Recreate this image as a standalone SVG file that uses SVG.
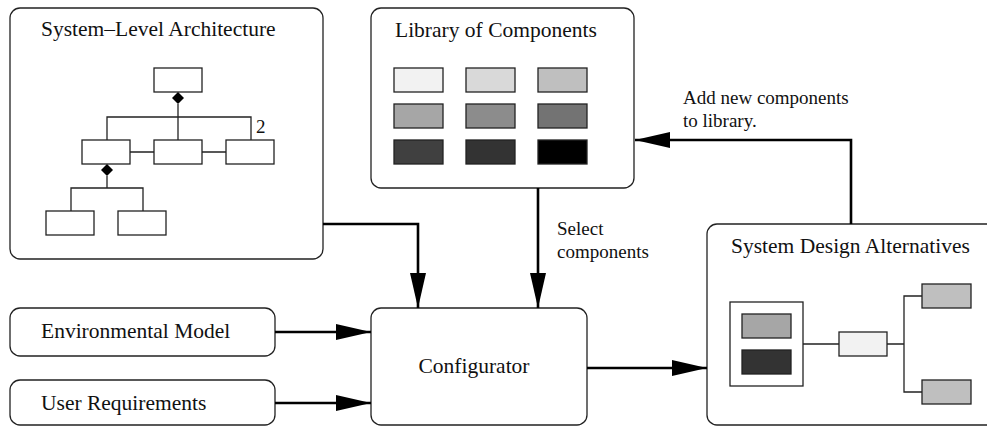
<svg xmlns="http://www.w3.org/2000/svg" width="987" height="427" viewBox="0 0 987 427">
<style>
.box{fill:#fff;stroke:#222;stroke-width:1.3}
.t{font-family:"Liberation Serif","Times New Roman",serif;font-size:21.5px;fill:#111}
.s{font-family:"Liberation Serif","Times New Roman",serif;font-size:19px;fill:#111}
.r{stroke:#222;stroke-width:1.3}
.w{fill:#fff}
.ln{fill:none;stroke:#222;stroke-width:1.3}
.c{fill:none;stroke:#000;stroke-width:2.6}
</style>
<defs>
<marker id="ah" viewBox="0 0 35 16" markerWidth="35" markerHeight="16" markerUnits="userSpaceOnUse" refX="35" refY="8" orient="auto">
<path d="M0,0 L35,8 L0,16 z" fill="#000"/>
</marker>
</defs>
<rect width="987" height="427" fill="#fff"/>

<g id="sla">
<rect class="box" x="10" y="8" width="313" height="251" rx="10"/>
<text class="t" x="41" y="36">System–Level Architecture</text>
<rect class="r w" x="154" y="68" width="48" height="24"/>
<polygon points="178,92 184,98 178,104 172,98" fill="#000"/>
<path class="ln" d="M178,104 V140 M107,140 V117 H251 V140 M130,152 H154 M202,152 H226"/>
<text class="s" x="256" y="133">2</text>
<rect class="r w" x="82" y="140" width="48" height="24"/>
<rect class="r w" x="154" y="140" width="48" height="24"/>
<rect class="r w" x="226" y="140" width="48" height="24"/>
<polygon points="107,164 113,170 107,176 101,170" fill="#000"/>
<path class="ln" d="M107,176 V188 M71,211 V188 H143 V211"/>
<rect class="r w" x="46" y="211" width="48" height="24"/>
<rect class="r w" x="118" y="211" width="48" height="24"/>
</g>

<g id="library">
<rect class="box" x="371" y="8" width="263" height="180" rx="10"/>
<text class="t" x="395" y="37">Library of Components</text>
<rect class="r" x="394" y="68" width="49" height="24" fill="#f2f2f2"/>
<rect class="r" x="466" y="68" width="49" height="24" fill="#d9d9d9"/>
<rect class="r" x="538" y="68" width="49" height="24" fill="#bfbfbf"/>
<rect class="r" x="394" y="104" width="49" height="24" fill="#a6a6a6"/>
<rect class="r" x="466" y="104" width="49" height="24" fill="#8c8c8c"/>
<rect class="r" x="538" y="104" width="49" height="24" fill="#737373"/>
<rect class="r" x="394" y="140" width="49" height="24" fill="#404040"/>
<rect class="r" x="466" y="140" width="49" height="24" fill="#333333"/>
<rect class="r" x="538" y="140" width="49" height="24" fill="#000000"/>
</g>

<g id="env">
<rect class="box" x="10" y="308" width="265" height="48" rx="10"/>
<text class="t" x="41" y="338">Environmental Model</text>
</g>

<g id="user">
<rect class="box" x="10" y="380" width="265" height="45" rx="10"/>
<text class="t" x="41" y="410">User Requirements</text>
</g>

<g id="configurator">
<rect class="box" x="371" y="308" width="216" height="117" rx="10"/>
<text class="t" x="474" y="373" text-anchor="middle">Configurator</text>
</g>

<g id="sda">
<rect class="box" x="707" y="224" width="300" height="201" rx="10"/>
<text class="t" x="731" y="253">System Design Alternatives</text>
<rect class="r w" x="730" y="302" width="73" height="84"/>
<rect class="r" x="742" y="314" width="49" height="24" fill="#a6a6a6"/>
<rect class="r" x="742" y="350" width="49" height="24" fill="#333333"/>
<path class="ln" d="M803,344 H839 M887,344 H904 M922,296 H904 V392 H922"/>
<rect class="r" x="839" y="332" width="48" height="24" fill="#f2f2f2"/>
<rect class="r" x="922" y="284" width="49" height="24" fill="#bfbfbf"/>
<rect class="r" x="922" y="380" width="49" height="24" fill="#bfbfbf"/>
</g>

<g id="connectors">
<path class="c" d="M323,224 H418 V308" marker-end="url(#ah)"/>
<path class="c" d="M538,188 V308" marker-end="url(#ah)"/>
<path class="c" d="M275,332 H371" marker-end="url(#ah)"/>
<path class="c" d="M275,403 H371" marker-end="url(#ah)"/>
<path class="c" d="M587,368 H707" marker-end="url(#ah)"/>
<path class="c" d="M851,224 V140 H635" marker-end="url(#ah)"/>
<text class="s" x="557" y="235">Select</text>
<text class="s" x="557" y="258">components</text>
<text class="s" x="683" y="104">Add new components</text>
<text class="s" x="683" y="127">to library.</text>
</g>
</svg>
